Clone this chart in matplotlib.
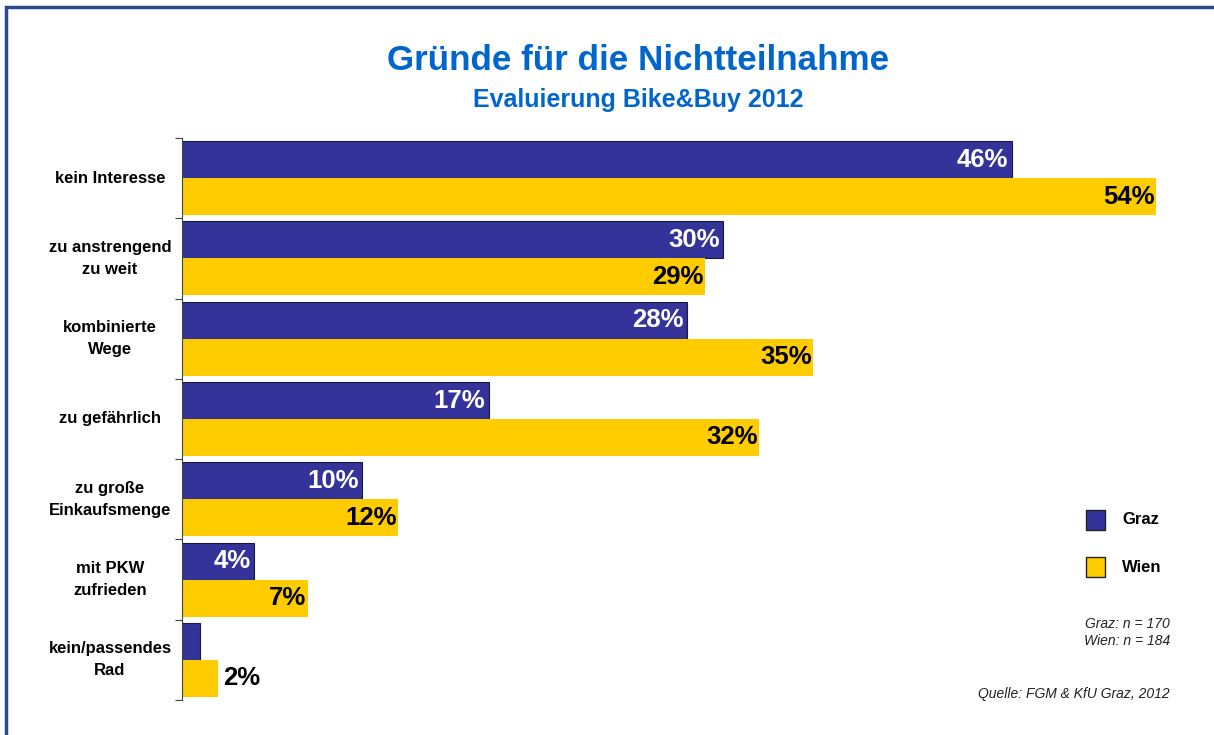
import matplotlib.pyplot as plt
from matplotlib.patches import Rectangle

plt.rcParams["font.family"] = ["Liberation Sans", "DejaVu Sans"]

categories = ["kein Interesse", "zu anstrengend\nzu weit", "kombinierte\nWege",
              "zu gefährlich", "zu große\nEinkaufsmenge", "mit PKW\nzufrieden",
              "kein/passendes\nRad"]
graz = [46, 30, 28, 17, 10, 4, 1]
wien = [54, 29, 35, 32, 12, 7, 2]
graz_labels = ["46%", "30%", "28%", "17%", "10%", "4%", ""]
wien_labels = ["54%", "29%", "35%", "32%", "12%", "7%", "2%"]

GRAZ_COL = "#333399"
WIEN_COL = "#FFCC00"
BLUE = "#0066CC"

W, H = 1214, 735
fig = plt.figure(figsize=(W / 100, H / 100), dpi=100)

# frame (only left and top edges visible)
fig.patches.append(Rectangle((6 / W, -0.1), 1.2, 1 - 7 / H + 0.1,
                             transform=fig.transFigure, fill=False,
                             edgecolor="#2B4A8B", linewidth=2.5))

ax = fig.add_axes([182 / W, 1 - 700 / H, (1156 - 182) / W, (700 - 138) / H])
n = len(categories)
h = 0.46
ys = list(range(n))
ax.barh([y - h / 2 for y in ys], graz, height=h, color=GRAZ_COL,
        edgecolor="#1a1a3a", linewidth=0.8)
ax.barh([y + h / 2 for y in ys], wien, height=h, color=WIEN_COL, linewidth=0)
ax.set_xlim(0, 54)
ax.set_ylim(n - 0.5, -0.5)

for y, v, lab in zip(ys, graz, graz_labels):
    if lab:
        ax.text(v - 0.2, y - h / 2, lab, ha="right", va="center", color="white",
                fontsize=18.5, fontweight="bold")
for y, v, lab in zip(ys, wien, wien_labels):
    if v >= 5:
        ax.text(v - 0.1, y + h / 2, lab, ha="right", va="center", color="black",
                fontsize=18.5, fontweight="bold")
    else:
        ax.text(v + 0.3, y + h / 2, lab, ha="left", va="center", color="black",
                fontsize=18.5, fontweight="bold")

for s in ["top", "right", "bottom"]:
    ax.spines[s].set_visible(False)
ax.spines["left"].set_color("#444444")
ax.set_xticks([])
ax.set_yticks([y - 0.5 for y in ys] + [n - 0.5])
ax.set_yticklabels([])
ax.tick_params(axis="y", length=5, color="#444444")

for y, c in zip(ys, categories):
    ax.text(-72 / (1156 - 182) * 54, y, c, ha="center", va="center",
            fontsize=12, fontweight="bold", linespacing=1.6)

fig.text(638 / W, 1 - 60 / H, "Gründe für die Nichtteilnahme", ha="center",
         va="center", color=BLUE, fontsize=25.2, fontweight="bold")
fig.text(638 / W, 1 - 100 / H, "Evaluierung Bike&Buy 2012", ha="center",
         va="center", color=BLUE, fontsize=18, fontweight="bold")

# legend
for yy, col, lab in [(520, GRAZ_COL, "Graz"), (567, WIEN_COL, "Wien")]:
    fig.patches.append(Rectangle((1086 / W, 1 - (yy + 10) / H), 19 / W, 20 / H,
                                 transform=fig.transFigure, facecolor=col,
                                 edgecolor="#222222", linewidth=1))
    fig.text(1122 / W, 1 - yy / H, lab, ha="left", va="center",
             fontsize=12, fontweight="bold")

fig.text(1170 / W, 1 - 624 / H, "Graz: n = 170", ha="right", va="center",
         fontsize=10, style="italic", color="#222222")
fig.text(1170 / W, 1 - 641 / H, "Wien: n = 184", ha="right", va="center",
         fontsize=10, style="italic", color="#222222")
fig.text(1170 / W, 1 - 694 / H, "Quelle: FGM & KfU Graz, 2012", ha="right",
         va="center", fontsize=10, style="italic", color="#222222")

fig.savefig("out.png", dpi=100)
